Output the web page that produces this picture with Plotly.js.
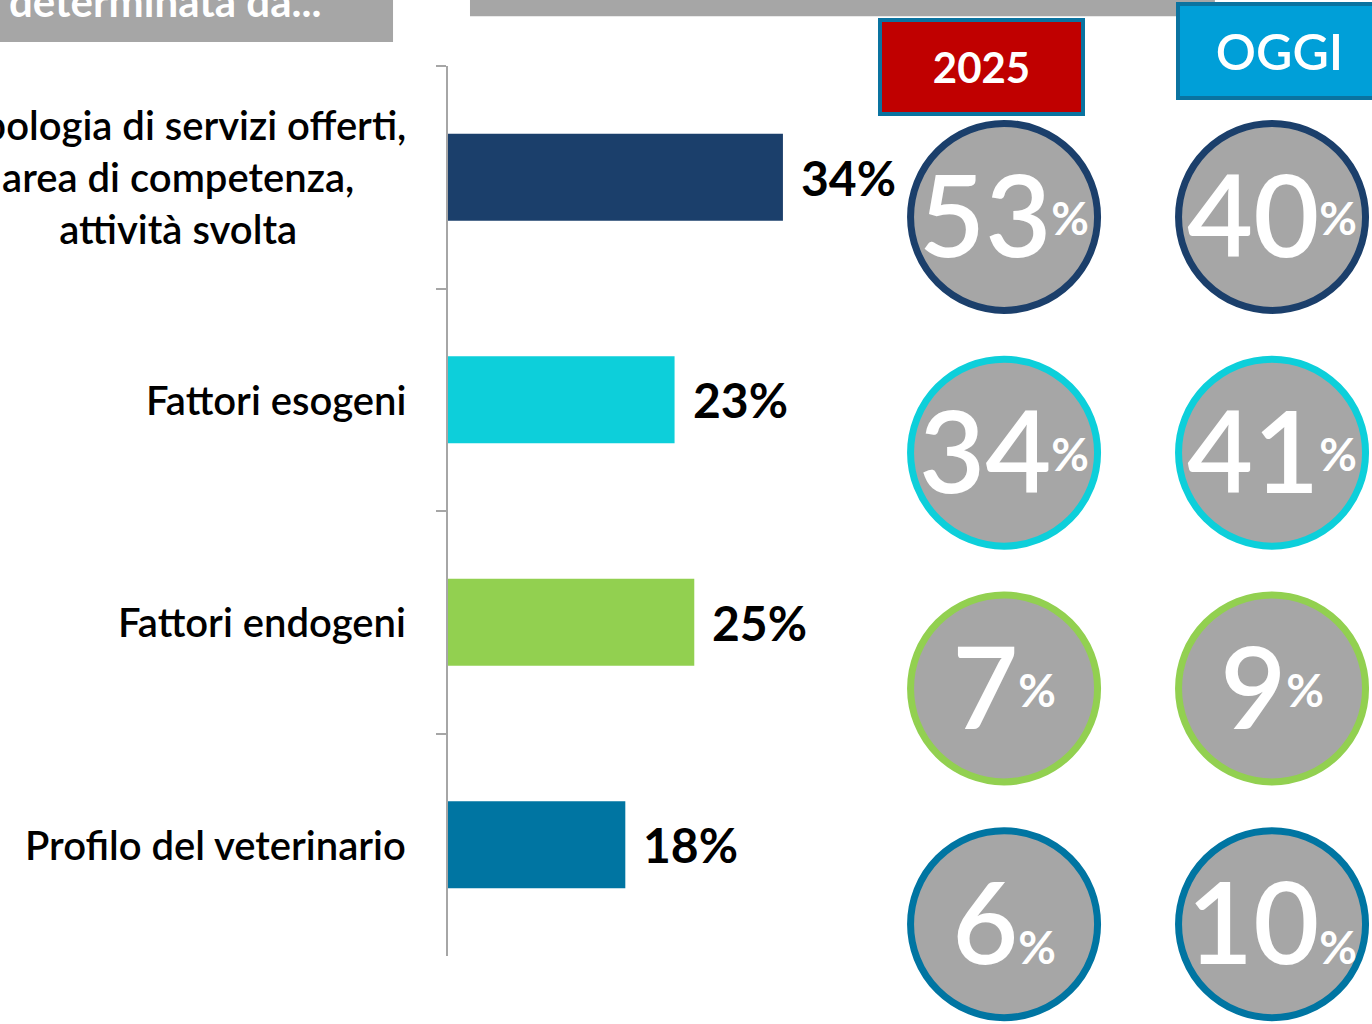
<!DOCTYPE html>
<html>
<head>
<meta charset="utf-8">
<script src="https://cdn.plot.ly/plotly-3.0.1.min.js"></script>
<style>
  body { margin: 0; background: #fff; }
  #chart { width: 1372px; height: 1024px; }
</style>
</head>
<body>
<div id="chart"></div>
<script>
// bar chart: what the clientele is determined by
var categories = [
    'Tipologia di servizi offerti,<br>area di competenza,<br>attività svolta',
    'Fattori esogeni',
    'Fattori endogeni',
    'Profilo del veterinario'
];
var shares = [34, 23, 25, 18];
var barColors = ['#1B3F6B', '#0DCFDA', '#92D050', '#0075A2'];

// circles on the right: 2025 vs today
var periods = ['2025', 'OGGI'];
var share2025 = [53, 34, 7, 6];
var shareOggi = [40, 41, 9, 10];

var font = 'Lato, "Open Sans", sans-serif';

var bars = {
    type: 'bar',
    orientation: 'h',
    x: shares,
    y: categories,
    width: 0.39,
    marker: {color: barColors},
    hoverinfo: 'skip'
};

function circleText(vals) {
    return vals.map(function (v, i) {
        // the small % sits mid-height on the first rows, on the baseline on the last
        var shift = i < 3 ? ';baseline-shift:22px' : '';
        return v + '<span style="font-size:46px;font-weight:bold' + shift + '">%</span>';
    });
}

function circles(period, vals) {
    return {
        type: 'scatter',
        mode: 'markers',
        xaxis: 'x2',
        yaxis: 'y2',
        x: vals.map(function () { return period; }),
        y: categories,
        cliponaxis: false,
        marker: {
            size: 187,
            color: '#A6A6A6',
            line: {width: 7, color: barColors}
        },
        hoverinfo: 'skip'
    };
}

// numbers go on a slightly shifted axis so they sit optically centred
function circleLabels(period, vals) {
    return {
        type: 'scatter',
        mode: 'text',
        xaxis: 'x2',
        yaxis: 'y3',
        x: vals.map(function () { return period; }),
        y: categories,
        text: circleText(vals),
        textposition: 'middle center',
        textfont: {family: font, size: 114, color: '#ffffff', weight: 600},
        cliponaxis: false,
        hoverinfo: 'skip'
    };
}

var annotations = [];

// category labels to the left of the axis
categories.forEach(function (c) {
    annotations.push({
        xref: 'paper', yref: 'y', x: 0, y: c,
        xanchor: 'right', yanchor: 'middle', xshift: -40,
        text: c, align: 'center', showarrow: false,
        font: {family: font, size: 40, color: '#000000', weight: 600}
    });
});

// value labels next to the bars
shares.forEach(function (v, i) {
    annotations.push({
        xref: 'x', yref: 'y', x: v, y: categories[i],
        xanchor: 'left', yanchor: 'middle', xshift: 16,
        text: v + '%', showarrow: false,
        font: {family: font, size: 48, color: '#000000', weight: 'bold'}
    });
});

// column headers
annotations.push({
    xref: 'paper', yref: 'paper', x: 0.577, y: 0.999,
    xanchor: 'center', yanchor: 'middle',
    text: '<b>' + periods[0] + '</b>', showarrow: false,
    font: {family: font, size: 42, color: '#ffffff'},
    bgcolor: '#C00000', bordercolor: '#0A73A0', borderwidth: 4, borderpad: 0,
    width: 199, height: 90
});
annotations.push({
    xref: 'paper', yref: 'paper', x: 0.9, y: 1.017,
    xanchor: 'center', yanchor: 'middle',
    text: periods[1], showarrow: false,
    font: {family: font, size: 50, color: '#ffffff', weight: 600},
    bgcolor: '#009FD8', bordercolor: '#0A73A0', borderwidth: 4, borderpad: 0,
    width: 199, height: 90
});

// slide title fragment, cut at the top
annotations.push({
    xref: 'paper', yref: 'paper', x: -0.477, y: 1.0725,
    xanchor: 'left', yanchor: 'middle',
    text: '<b>determinata da...</b>', showarrow: false,
    font: {family: font, size: 42, color: '#ffffff'}
});

var layout = {
    width: 1372,
    height: 1024,
    margin: {l: 448, r: 0, t: 66, b: 68},
    paper_bgcolor: '#ffffff',
    plot_bgcolor: 'rgba(0,0,0,0)',
    showlegend: false,
    xaxis: {range: [0, 93.8], visible: false, fixedrange: true},
    yaxis: {
        type: 'category',
        range: [3.5, -0.5],
        showline: true, linecolor: '#A6A6A6', linewidth: 2,
        ticks: 'outside', tickson: 'boundaries', ticklen: 10,
        tickcolor: '#A6A6A6', tickwidth: 2,
        showticklabels: false, showgrid: false, zeroline: false
    },
    xaxis2: {
        type: 'category', overlaying: 'x', anchor: 'y2',
        range: [-2.075, 1.373], visible: false
    },
    yaxis2: {
        type: 'category', overlaying: 'y', anchor: 'x2',
        range: [3.135, -0.64], visible: false
    },
    yaxis3: {
        type: 'category', overlaying: 'y', anchor: 'x2',
        range: [3.085, -0.69], visible: false
    },
    shapes: [
        {type: 'rect', xref: 'paper', yref: 'paper', layer: 'below',
         x0: -0.485, x1: -0.0595, y0: 1.027, y1: 1.08,
         fillcolor: '#A6A6A6', line: {width: 0}},
        {type: 'rect', xref: 'paper', yref: 'paper', layer: 'below',
         x0: 0.0238, x1: 0.83, y0: 1.056, y1: 1.08,
         fillcolor: '#A6A6A6', line: {width: 0}}
    ],
    annotations: annotations
};

Plotly.newPlot('chart', [
    bars,
    circles(periods[0], share2025), circles(periods[1], shareOggi),
    circleLabels(periods[0], share2025), circleLabels(periods[1], shareOggi)
], layout, {displayModeBar: false, staticPlot: true});
</script>
</body>
</html>
